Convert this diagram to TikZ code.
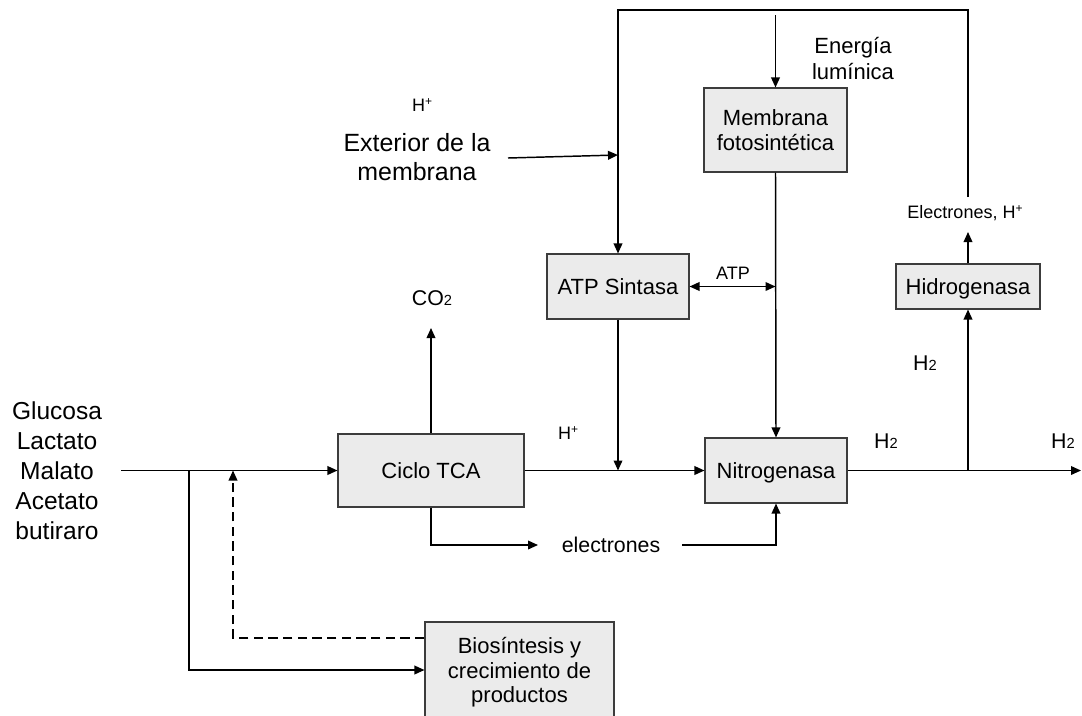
\documentclass[tikz,border=0pt]{standalone}
\usepackage{fontspec}
\setmainfont{Liberation Sans}
\usetikzlibrary{arrows.meta}

\definecolor{boxfill}{RGB}{235,235,235}
\definecolor{boxline}{RGB}{60,60,60}

\newcommand{\subtwo}{{\fontsize{11}{11}\selectfont 2}}
\newcommand{\hplus}{H{\fontsize{9}{9}\selectfont\raisebox{0.55em}{+}}}

\tikzset{
  box/.style={draw=boxline, fill=boxfill, line width=0.8pt, inner sep=0pt,
    align=center, font=\fontsize{16.5}{18.5}\selectfont},
  onebox/.style={box, text depth=0pt},
  flow/.style={line width=1.1pt, -{Triangle[length=7.5pt,width=6.5pt]}},
  bothflow/.style={line width=1.1pt, {Triangle[length=7.5pt,width=6.5pt]}-{Triangle[length=7.5pt,width=6.5pt]}},
  lbl/.style={inner sep=0pt, align=center},
  small/.style={lbl, font=\fontsize{13.5}{15}\selectfont},
  mid/.style={lbl, font=\fontsize{16}{18}\selectfont},
}

\begin{document}
\begin{tikzpicture}[x=0.75pt, y=-0.75pt]
  \useasboundingbox (0,0) rectangle (1082,715);
  \clip (0,0) rectangle (1082,715);

  % process blocks
  \node[onebox, minimum width=139.5pt, minimum height=54.75pt] (tca) at (431,470.5) {Ciclo TCA};
  \node[onebox, minimum width=106.5pt, minimum height=48.75pt] (nit) at (776,470.5) {Nitrogenasa};
  \node[box, minimum width=107.25pt, minimum height=63pt] (mem) at (775.5,130)
    {\fontsize{16.5}{18.4}\selectfont Membrana\\fotosintética};
  \node[onebox, minimum width=106.5pt, minimum height=48.75pt] (atp) at (618,286.5) {ATP Sintasa};
  \node[onebox, minimum width=108pt, minimum height=33.75pt] (hid) at (968,286.5) {Hidrogenasa};
  \node[box, minimum width=141.75pt, minimum height=75.75pt] (bio) at (519.5,672.5)
    {\fontsize{16.5}{20.6}\selectfont Biosíntesis y\\crecimiento de\\productos};

  % labels
  \node[lbl, font=\fontsize{18.4}{22.5}\selectfont] (sub) at (57,471)
    {Glucosa\\Lactato\\Malato\\Acetato\\butiraro};
  \node[lbl, font=\fontsize{18.7}{21.75}\selectfont] (ext) at (417,157.5)
    {Exterior de la\\membrana};
  \node[small] (hup) at (422,105) {\hplus};
  \node[lbl, font=\fontsize{16.5}{20}\selectfont] (luz) at (853,58.5)
    {Energía\\lumínica};
  \node[small] (atplbl) at (733,273) {ATP};
  \node[small] (hmain) at (568,433) {\hplus};
  \node[mid] (co2) at (432,298) {CO\subtwo};
  \node[mid] (h2a) at (886,441) {H\subtwo};
  \node[mid] (h2b) at (1063,441) {H\subtwo};
  \node[mid] (h2c) at (925,363) {H\subtwo};
  \node[small] (ehlbl) at (965,213) {Electrones, \hplus};
  \node[mid] (elec) at (611,545) {electrones};

  % free ends and bends
  \coordinate (src) at (121,470.5);
  \coordinate (split) at (189,470.5);
  \coordinate (splitlow) at (189,670);
  \coordinate (dashbend) at (233,638);
  \coordinate (dashtip) at (233,470.5);
  \coordinate (extA) at (508,158);
  \coordinate (extB) at (618,155);
  \coordinate (topL) at (618,10);
  \coordinate (topR) at (968,10);
  \coordinate (ehTop) at (968,197);
  \coordinate (ehTip) at (968,232);
  \coordinate (lightA) at (775.5,15);
  \coordinate (co2tip) at (431,328);
  \coordinate (elA) at (538,545);
  \coordinate (elB) at (682,545);
  \coordinate (branch) at (968,470.5);
  \coordinate (outR) at (1081,470.5);

  % main carbon flow
  \draw[flow] (src) -- (tca.west);
  \draw[flow] (split) -- (splitlow) -- (bio.west |- splitlow);
  \draw[flow, dash pattern=on 7pt off 4pt] (bio.west |- dashbend) -- (dashbend) -- (dashtip);
  \draw[flow] (tca.north) -- (co2tip);
  \draw[flow] (tca.south) |- (elA);
  \draw[flow] (elB) -| (nit.south);
  \draw[flow] (tca.east) -- (nit.west);

  % membrane, proton and ATP loop
  \draw[flow] (lightA) -- (mem.north);
  \draw[flow] (mem.south) -- (nit.north);
  \draw[flow] (extA) -- (extB);
  \draw[flow] (ehTop) -- (topR) -- (topL) -- (atp.north);
  \draw[bothflow] (atp.east) -- (atp.east -| mem.south);
  \draw[flow] (atp.south) -- (atp.south |- tca.east);

  % hydrogen output
  \draw[flow] (nit.east) -- (outR);
  \draw[flow] (branch) -- (hid.south);
  \draw[flow] (hid.north) -- (ehTip);
\end{tikzpicture}
\end{document}
